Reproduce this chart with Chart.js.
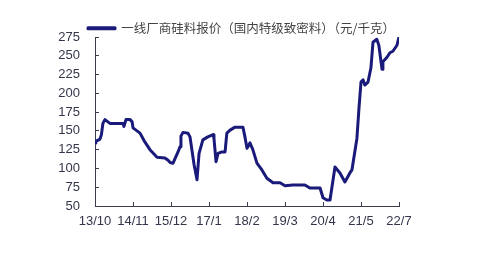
<!DOCTYPE html>
<html>
<head>
<meta charset="utf-8">
<script src="https://cdn.jsdelivr.net/npm/chart.js@4/dist/chart.umd.min.js"></script>
<style>
    body { margin: 0; background: #fff; }
</style>
</head>
<body>
<canvas id="price-chart" width="500" height="253"></canvas>
<script>
const seriesName = "一线厂商硅料报价（国内特级致密料）（元/千克）";
const xLabels = ["13/10", "14/11", "15/12", "17/1", "18/2", "19/3", "20/4", "21/5", "22/7"];
const yTicks = [50, 75, 100, 125, 150, 175, 200, 225, 250, 275];

// months since 2013/10
const months = [
    0, 0.3, 1.7, 2.2, 2.7, 3.4, 5.1, 7.9, 9.6, 9.9, 10.6, 12.0, 12.7, 13.0,
    15.4, 17.1, 18.8, 20.5, 21.2, 23.9, 25.0, 25.7, 26.7, 28.4, 29.1, 29.4,
    30.1, 31.8, 32.5, 33.9, 34.9, 35.6, 36.9, 38.6, 40.4, 40.7, 41.4, 42.1,
    43.4, 44.5, 45.1, 46.2, 47.9, 49.6, 50.6, 51.3, 52.0, 53.0, 54.0, 55.4,
    57.1, 58.8, 60.9, 63.3, 65.0, 67.7, 71.8, 73.5, 77.0, 78.0, 79.3, 80.4,
    82.1, 83.8, 85.5, 87.2, 87.9, 89.6, 90.3, 91.0, 91.7, 92.3, 93.4, 94.4,
    95.1, 96.4, 97.1, 98.2, 98.5, 99.9, 100.9, 101.9, 103.3, 104.0,
];
const prices = [
    134, 136, 139, 145, 160, 165, 160, 160, 160, 156, 165, 165, 162, 154,
    147, 135, 125, 118, 115, 114, 111, 108, 107, 122, 129, 143,
    148, 147, 142, 105, 85, 120, 138, 142, 145, 140, 109, 120,
    122, 122, 147, 151, 155, 155, 155, 142, 127, 134, 125, 107,
    98, 87, 81, 81, 77, 78, 78, 74, 74, 61, 58, 58,
    102, 94, 82, 94, 98, 140, 180, 215, 218, 211, 215, 234,
    268, 272, 264, 232, 242, 248, 254, 256, 264, 275,
];

const lineColor = "#1a1a7a";
const axisColor = "#3a3d4d";
const textColor = "#33364a";

const points = months.map((m, i) => ({ x: m, y: prices[i] }));

// push the legend right so its line starts just left of the y axis
const legendShift = {
    id: "legendShift",
    afterLayout(chart) {
        chart.legend.left = 78;
    },
};

new Chart(document.getElementById("price-chart"), {
    type: "line",
    data: {
        datasets: [
            {
                label: seriesName,
                data: points,
                borderColor: lineColor,
                backgroundColor: lineColor,
                borderWidth: 3,
                borderJoinStyle: "round",
                pointRadius: 0,
                tension: 0,
            },
        ],
    },
    plugins: [legendShift],
    options: {
        responsive: false,
        animation: false,
        layout: {
            padding: { left: 0, right: 101, top: 12, bottom: 0 },
        },
        plugins: {
            legend: {
                align: "start",
                maxHeight: 25,
                labels: {
                    boxWidth: 27,
                    boxHeight: 1,
                    padding: 10,
                    color: "#444",
                    font: { family: "'Noto Sans CJK SC'", size: 12.5 },
                },
            },
            tooltip: { enabled: false },
        },
        scales: {
            x: {
                type: "linear",
                min: 0,
                max: 104,
                afterFit: (scale) => {
                    scale.height = 47;
                },
                afterBuildTicks: (scale) => {
                    scale.ticks = xLabels.map((_, i) => ({ value: i * 13 }));
                },
                ticks: {
                    autoSkip: false,
                    maxRotation: 0,
                    padding: 12,
                    color: textColor,
                    font: { family: "'Liberation Sans'", size: 13 },
                    callback: (value) => xLabels[Math.round(value / 13)],
                },
                grid: {
                    drawOnChartArea: false,
                    tickLength: -4,
                    color: axisColor,
                },
                border: { color: axisColor, width: 1 },
            },
            y: {
                min: 50,
                max: 275,
                afterFit: (scale) => {
                    scale.width = 95;
                },
                afterBuildTicks: (scale) => {
                    scale.ticks = yTicks.map((v) => ({ value: v }));
                },
                ticks: {
                    padding: 19,
                    color: textColor,
                    font: { family: "'Liberation Sans'", size: 13 },
                },
                grid: {
                    drawOnChartArea: false,
                    tickLength: -4,
                    color: axisColor,
                },
                border: { color: axisColor, width: 1 },
            },
        },
    },
});
</script>
</body>
</html>
